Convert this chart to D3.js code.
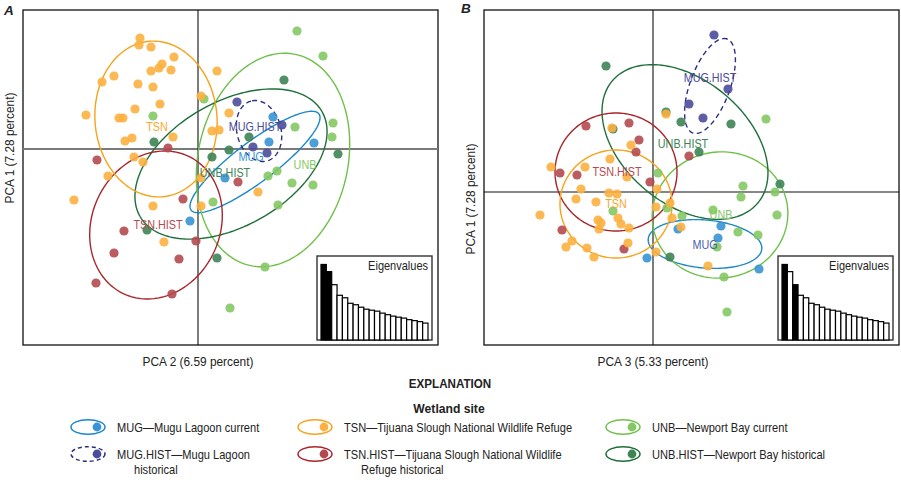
<!DOCTYPE html>
<html><head><meta charset="utf-8">
<script src="https://cdn.jsdelivr.net/npm/d3@7"></script>
<style>
body{margin:0;background:#fff}
svg{display:block}
text{font-family:"Liberation Sans",Arial,sans-serif;fill:#222}
</style>
</head><body>
<svg id="c" width="901" height="483"></svg>
<script>
// ---------------- DATA ----------------
const sites = ["MUG","MUG.HIST","UNB","UNB.HIST","TSN.HIST","TSN"];

// Panel A : PCA 2 (x) vs PCA 1 (y)
const A_MUG = [[0.75,0.32],[0.71,0.07],[1.16,0.06],[0.27,-0.29],[-0.08,-0.72]];
const A_MUG_HIST = [[0.39,0.47],[0.84,0.24],[0.55,0.02],[0.69,-0.04]];
const A_UNB = [[0.99,1.18],[1.25,0.93],[0.06,0.50],[-0.45,0.33],[0.97,0.22],[1.35,0.26],[1.34,0.12],[0.70,-0.27],[0.79,-0.22],[0.94,-0.34],[1.15,-0.36],[0.15,-0.53],[0.80,-0.56],[0.67,-1.18],[0.32,-1.59]];
const A_UNB_HIST = [[-0.44,0.07],[0.14,-0.08],[0.51,0.12],[0.31,-0.01],[0.86,0.69],[1.40,-0.05],[0.19,-1.09],[-0.51,-0.81]];
const A_TSN_HIST = [[-0.30,0.01],[-1.01,-0.11],[-0.15,-0.50],[-0.74,-0.82],[-0.84,-1.04],[-0.19,-1.10],[-1.02,-1.34],[-0.26,-1.45],[-0.02,-0.92],[0.40,-0.33]];
const A_TSN = [[-0.58,1.11],[-0.59,1.04],[-0.47,1.02],[-0.24,0.92],[-0.47,0.78],[-0.39,0.81],[-0.36,0.85],[-0.27,0.79],[-0.84,0.73],[-0.96,0.67],[-0.60,0.65],[-0.45,0.62],[-0.38,0.45],[-0.63,0.40],[-1.12,0.34],[-0.79,0.31],[-0.75,0.31],[-0.73,0.08],[-0.66,0.11],[-0.25,0.12],[0.03,0.53],[0.19,0.78],[-0.64,-0.08],[-0.55,-0.13],[-0.90,-0.27],[-1.24,-0.51],[-0.45,-0.57],[-0.34,-0.93],[0.03,-0.29],[0.03,-0.57],[0.31,0.36],[0.14,0.18],[0.21,0.19],[0.60,-0.43]];

// Panel B : PCA 3 (x) vs PCA 1 (y)
const B_MUG = [[-0.06,-0.66],[0.25,-0.37],[0.68,-0.34],[0.65,-0.46],[1.06,-0.77]];
const B_MUG_HIST = [[0.61,1.57],[0.75,1.03],[0.36,0.88],[0.50,0.74]];
const B_UNB = [[0.05,0.19],[-0.40,-0.19],[0.29,-0.24],[0.60,-0.18],[0.90,0.06],[0.88,-0.05],[1.22,0.00],[1.24,-0.23],[0.85,-0.40],[1.05,-0.43],[0.64,-0.55],[0.71,-0.85],[0.74,-1.20],[1.13,0.73],[0.14,-0.16]];
const B_UNB_HIST = [[-0.47,1.26],[0.13,0.80],[-0.40,0.63],[0.28,0.70],[0.78,0.68],[0.46,0.40],[1.27,0.08],[0.17,-0.65]];
const B_TSN_HIST = [[-0.67,0.66],[-0.24,0.69],[-0.14,0.52],[-0.17,0.40],[-0.93,0.19],[-0.76,0.17],[-0.03,0.10],[0.36,0.36],[-0.91,-0.38],[-0.29,-0.57]];
const B_TSN = [[-0.41,0.64],[-0.22,0.47],[-0.43,0.33],[-1.02,0.25],[-0.68,0.25],[-0.26,0.15],[-0.44,-0.01],[-0.36,-0.02],[-0.72,0.03],[-0.77,-0.07],[-0.57,-0.10],[-1.13,-0.23],[-0.55,-0.28],[-0.52,-0.31],[-0.35,-0.26],[-0.32,-0.32],[-0.24,-0.36],[-0.54,-0.37],[-0.81,-0.49],[-0.87,-0.55],[-0.66,-0.56],[-0.59,-0.65],[-0.25,-0.51],[0.04,0.03],[0.03,-0.15],[0.17,-0.11],[0.19,-0.26],[0.28,-0.35],[0.03,-0.60],[0.55,-0.74],[0.13,0.78]];

// Ellipses [cx, cy, semi-major, semi-minor, angle deg], same order as sites
const A_ellipses = [[0.57,-0.13,0.80,0.20,37],[0.61,0.18,0.31,0.22,105],[0.75,-0.11,1.08,0.75,78],[0.33,-0.15,1.05,0.62,30],[-0.42,-0.76,0.76,0.64,65],[-0.42,0.30,0.78,0.61,95]];
const B_ellipses = [[0.52,-0.52,0.57,0.24,-5],[0.57,1.06,0.50,0.20,70],[0.67,-0.23,0.68,0.63,10],[0.32,0.50,0.95,0.62,-40],[-0.37,0.20,0.61,0.59,0],[-0.37,-0.12,0.56,0.54,0]];

// Group labels (centroids) same order as sites
const A_labels = [[0.53,-0.07],[0.57,0.23],[1.07,-0.15],[0.27,-0.23],[-0.40,-0.75],[-0.41,0.23]];
const B_labels = [[0.52,-0.52],[0.57,1.15],[0.68,-0.22],[0.30,0.49],[-0.36,0.21],[-0.37,-0.11]];

const eigenvalues = [7.28,6.59,5.33,4.31,4.07,3.54,3.40,3.16,2.97,2.87,2.78,2.59,2.44,2.30,2.20,2.11,1.96,1.87,1.77,1.63];

const legendNames = {
  "MUG":["MUG\u2014Mugu Lagoon current"],
  "TSN":["TSN\u2014Tijuana Slough National Wildlife Refuge"],
  "UNB":["UNB\u2014Newport Bay current"],
  "MUG.HIST":["MUG.HIST\u2014Mugu Lagoon","historical"],
  "TSN.HIST":["TSN.HIST\u2014Tijuana Slough National Wildlife","Refuge historical"],
  "UNB.HIST":["UNB.HIST\u2014Newport Bay historical"]
};
const legendOrder = [["MUG","TSN","UNB"],["MUG.HIST","TSN.HIST","UNB.HIST"]];

// ---------------- STYLE ----------------
const dotColor = {"MUG":"#3894d4","MUG.HIST":"#4b4c9a","UNB":"#84c864","UNB.HIST":"#3e8455","TSN.HIST":"#b34a4f","TSN":"#fbb040"};
const lineColor = {"MUG":"#1b88c8","MUG.HIST":"#2b2f80","UNB":"#6fc04a","UNB.HIST":"#1f6f3a","TSN.HIST":"#a8262c","TSN":"#f7a21b"};
const labColA = {"MUG":"#3894d4","MUG.HIST":"#4b4c9a","UNB":"#84c864","UNB.HIST":"#3e8455","TSN.HIST":"#b34a4f","TSN":"#f9a82a"};
const labColB = Object.assign({}, labColA, {"MUG":"#4f5faf"});

const svg = d3.select("#c");

// condensed text helper (horizontal squeeze to mimic a condensed face)
function ctext(parent, x, y, str, size, opt={}){
  const sx = opt.sx || 0.88;
  const t = parent.append("text")
    .attr("transform", `translate(${x},${y})` + (opt.rot ? ` rotate(${opt.rot})` : "") + ` scale(${sx},1)`)
    .attr("font-size", size).attr("text-anchor", opt.anchor || "start").text(str);
  if (opt.dy) t.attr("dy", opt.dy);
  if (opt.weight) t.attr("font-weight", opt.weight);
  if (opt.style) t.attr("font-style", opt.style);
  if (opt.fill) t.style("fill", opt.fill);
  return t;
}

function ellipsePts(e){
  const [cx,cy,a,b,ang] = e; const th = ang*Math.PI/180; const pts=[];
  for(let i=0;i<=160;i++){
    const t=i/160*2*Math.PI;
    pts.push([cx + a*Math.cos(t)*Math.cos(th) - b*Math.sin(t)*Math.sin(th),
              cy + a*Math.cos(t)*Math.sin(th) + b*Math.sin(t)*Math.cos(th)]);
  }
  return pts;
}

function panel(cfg){
  const g = svg.append("g");
  const x = d3.scaleLinear().domain(cfg.xd).range([cfg.l,cfg.r]);
  const y = d3.scaleLinear().domain(cfg.yd).range([cfg.b,cfg.t]);
  g.append("rect").attr("x",cfg.l).attr("y",cfg.t).attr("width",cfg.r-cfg.l).attr("height",cfg.b-cfg.t)
    .attr("fill","#fff").attr("stroke","#111").attr("stroke-width",1.3);
  g.append("line").attr("x1",cfg.l).attr("x2",cfg.r).attr("y1",y(0)).attr("y2",y(0))
    .attr("stroke",cfg.hColor).attr("stroke-width",cfg.hW);
  g.append("line").attr("x1",x(0)).attr("x2",x(0)).attr("y1",cfg.t).attr("y2",cfg.b)
    .attr("stroke","#111").attr("stroke-width",1.1);

  // inset eigenvalues
  const ir = cfg.r-6, ib = cfg.b-5, il = ir-115, it = ib-84;
  g.append("rect").attr("x",il).attr("y",it).attr("width",ir-il).attr("height",ib-it)
    .attr("fill","#fff").attr("stroke","#333").attr("stroke-width",1.4);
  const bx = d3.scaleBand().domain(d3.range(eigenvalues.length)).range([il+4, ir-4]).padding(0);
  const by = d3.scaleLinear().domain([0,8]).range([ib, ib-83]);
  g.selectAll("rect.eig").data(eigenvalues).join("rect").attr("class","eig")
    .attr("x",(d,i)=>bx(i)).attr("width",bx.bandwidth()).attr("y",d=>by(d)).attr("height",d=>by(0)-by(d))
    .attr("fill",(d,i)=>cfg.black.includes(i)?"#000":"#fff").attr("stroke","#000").attr("stroke-width",1.2);
  ctext(g, ir-4, it+14, "Eigenvalues", 12.5, {anchor:"end"});

  // ellipses
  sites.forEach((s,i)=>{
    g.append("path").attr("d", d3.line().x(d=>x(d[0])).y(d=>y(d[1]))(ellipsePts(cfg.ell[i])))
      .attr("fill","none").attr("stroke",lineColor[s]).attr("stroke-width",1.4)
      .attr("stroke-dasharray", s==="MUG.HIST" ? "5,3.5" : null);
  });
  // points
  sites.forEach((s,i)=>{
    g.selectAll(null).data(cfg.pts[i]).join("circle")
      .attr("cx",d=>x(d[0])).attr("cy",d=>y(d[1])).attr("r",4.6)
      .attr("fill",dotColor[s]).attr("fill-opacity",0.9);
  });
  // labels
  sites.forEach((s,i)=>{
    const p = cfg.labs[i];
    ctext(g, x(p[0]), y(p[1]), s, 13, {anchor:"middle", dy:"0.36em", fill:cfg.labCol[s], sx:0.83});
  });
  // axis titles
  ctext(g, x(0), cfg.b+21, cfg.xt, 13.5, {anchor:"middle"});
  ctext(g, cfg.yl[0], cfg.yl[1], "PCA 1 (7.28 percent)", 13.5, {anchor:"middle", rot:-90, dy:"0.36em"});
  ctext(g, cfg.letter[0], cfg.letter[1], cfg.name, 13.5, {weight:"bold", style:"italic", sx:1});
}

panel({name:"A", l:23, r:438, t:10, b:345, xd:[-1.75,2.40], yd:[-1.96,1.39], hColor:"#7a7a7a", hW:2,
  pts:[A_MUG,A_MUG_HIST,A_UNB,A_UNB_HIST,A_TSN_HIST,A_TSN], ell:A_ellipses, labs:A_labels, labCol:labColA,
  black:[0,1], xt:"PCA 2 (6.59 percent)", yl:[9,148], letter:[4,15]});
panel({name:"B", l:484, r:899, t:10, b:345, xd:[-1.69,2.46], yd:[-1.53,1.82], hColor:"#111", hW:1.1,
  pts:[B_MUG,B_MUG_HIST,B_UNB,B_UNB_HIST,B_TSN_HIST,B_TSN], ell:B_ellipses, labs:B_labels, labCol:labColB,
  black:[0,2], xt:"PCA 3 (5.33 percent)", yl:[470,199], letter:[461,13]});

// ---------------- LEGEND ----------------
ctext(svg, 450, 388, "EXPLANATION", 13.5, {anchor:"middle", weight:"bold", sx:0.86});
ctext(svg, 449, 413, "Wetland site", 13.5, {anchor:"middle", weight:"bold", sx:0.9});
const colIcon = [88,315,623], colText = [117,344,652], rowY = [427,454];
legendOrder.forEach((row,ri)=>row.forEach((s,ci)=>{
  const cx = colIcon[ci], cy = rowY[ri];
  svg.append("ellipse").attr("cx",cx).attr("cy",cy).attr("rx",17).attr("ry",7.3)
    .attr("fill","#fff").attr("stroke",lineColor[s]).attr("stroke-width",1.5)
    .attr("stroke-dasharray", s==="MUG.HIST" ? "4,3" : null);
  svg.append("circle").attr("cx",cx+9).attr("cy",cy).attr("r",4.4).attr("fill",dotColor[s]);
  legendNames[s].forEach((ln,li)=>{
    ctext(svg, colText[ci] + (li>0 ? 17 : 0), cy+li*15, ln, 12.6, {dy:"0.36em"});
  });
}));
</script>
</body></html>
